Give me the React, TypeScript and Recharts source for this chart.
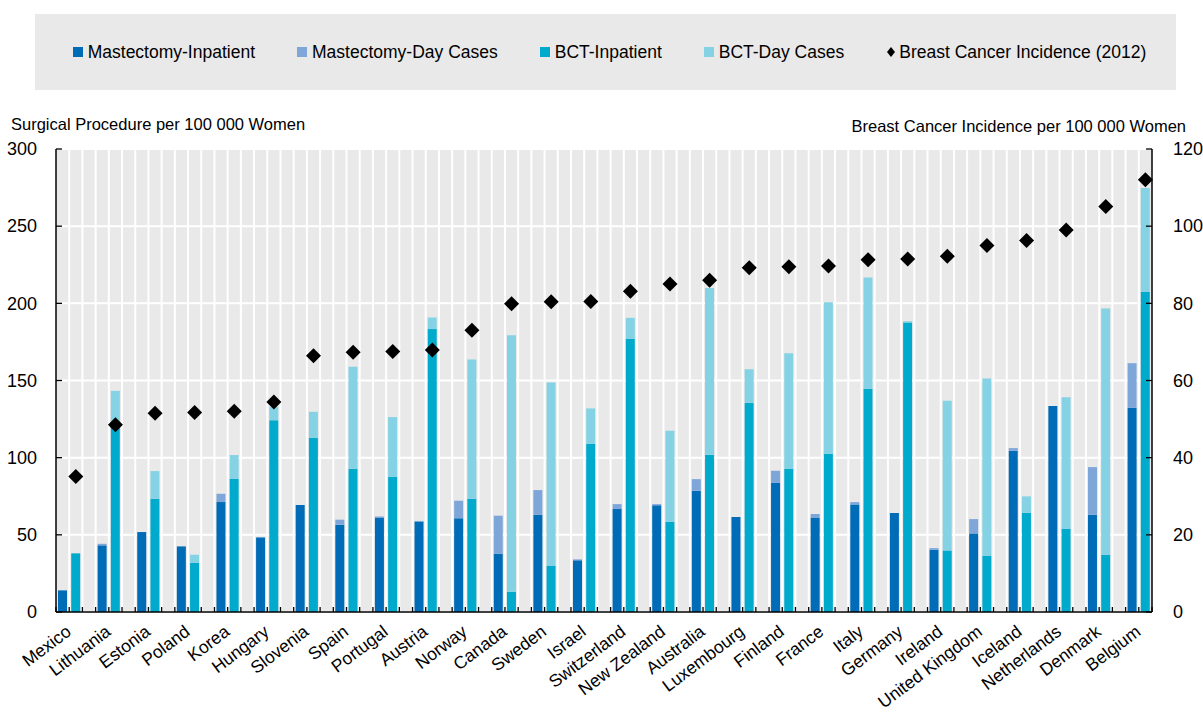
import React from "react";
import {
  ComposedChart,
  Bar,
  Scatter,
  XAxis,
  YAxis,
  CartesianGrid,
} from "recharts";

const countries = [
  "Mexico", "Lithuania", "Estonia", "Poland", "Korea", "Hungary", "Slovenia",
  "Spain", "Portugal", "Austria", "Norway", "Canada", "Sweden", "Israel",
  "Switzerland", "New Zealand", "Australia", "Luxembourg", "Finland", "France",
  "Italy", "Germany", "Ireland", "United Kingdom", "Iceland", "Netherlands",
  "Denmark", "Belgium",
];

const mastInpatient = [
  14, 43.2, 51.8, 42.5, 71.2, 48.3, 69.3, 56.6, 60.9, 58.7, 60.7, 37.8, 63.0,
  33.5, 66.7, 69.1, 78.6, 61.5, 83.7, 61.3, 69.7, 64.1, 40.4, 50.9, 104.5,
  133.4, 63.0, 132.3,
];
const mastDayCases = [
  0, 1.0, 0, 0, 5.4, 0, 0, 3.2, 1.0, 0.3, 11.4, 24.6, 16.0, 0.6, 3.2, 0.8, 7.5,
  0, 7.8, 2.2, 1.5, 0, 1.0, 9.3, 1.7, 0, 30.9, 28.9,
];
const bctInpatient = [
  38, 120, 73.4, 31.9, 86.3, 124.3, 112.9, 92.8, 87.6, 183.3, 73.4, 13.2, 29.8,
  109, 177, 58.5, 101.9, 135.5, 92.6, 102.5, 144.6, 187.6, 39.9, 36.5, 64.3,
  54.0, 37.1, 207.4,
];
const bctDayCases = [
  0, 23.3, 17.9, 5.2, 15.4, 8.7, 16.8, 66.1, 38.7, 7.5, 90.2, 166.2, 118.9,
  22.9, 13.6, 58.9, 108.1, 21.8, 75.1, 98.2, 72.1, 0.8, 96.9, 114.8, 10.6, 85.2,
  159.5, 67.4,
];
const incidence = [
  35.1, 48.5, 51.5, 51.7, 52.0, 54.4, 66.4, 67.3, 67.5, 67.9, 73.0, 79.9, 80.4,
  80.5, 83.1, 85.0, 86.0, 89.2, 89.5, 89.7, 91.3, 91.5, 92.2, 95.0, 96.3, 99.0,
  105.1, 112.0,
];

const leftTicks = [0, 50, 100, 150, 200, 250, 300];
const rightTicks = [0, 20, 40, 60, 80, 100, 120];

const C_MAST_IN = "#006bb6";
const C_MAST_DAY = "#7fa6d9";
const C_BCT_IN = "#00aacc";
const C_BCT_DAY = "#84d2e3";
const BG = "#e9e9e9";
const FONT = "'Liberation Sans', Arial, sans-serif";

// each country: mastectomy slot, BCT slot, empty slot
const rows: any[] = [];
countries.forEach((c, i) => {
  rows.push({ key: `${i}m`, country: c, mastIn: mastInpatient[i], mastDay: mastDayCases[i] });
  rows.push({ key: `${i}b`, bctIn: bctInpatient[i], bctDay: bctDayCases[i], inc: incidence[i] });
  if (i < countries.length - 1) rows.push({ key: `${i}g` });
});

const W = 1203;
const H = 717;
const LEFT_W = 56;
const RIGHT_W = 51;
const SLOT = (W - LEFT_W - RIGHT_W) / rows.length;

const XTick = (props: any) => {
  const { x, y, payload } = props;
  const idx = payload.index;
  const row = rows[idx];
  const half = payload.offset || SLOT / 2;
  const lx = x + half + 3;
  const ly = y + 22;
  return (
    <g>
      <line x1={x - half} x2={x - half} y1={y} y2={y - 5} stroke="#000" strokeWidth={1.3} />
      {idx === rows.length - 1 && (
        <line x1={x + half} x2={x + half} y1={y} y2={y - 5} stroke="#000" strokeWidth={1.3} />
      )}
      {row && row.country && (
        <text
          x={lx}
          y={ly}
          textAnchor="end"
          transform={`rotate(-37 ${lx} ${ly})`}
          fontSize={17.5}
          fontFamily={FONT}
          fill="#000"
        >
          {row.country}
        </text>
      )}
    </g>
  );
};

const LeftTick = (props: any) => {
  const { x, y, payload } = props;
  return (
    <g>
      <line x1={x} x2={x + 6} y1={y} y2={y} stroke="#000" strokeWidth={1.3} />
      <text x={x - 19} y={y} dy="0.35em" textAnchor="end" fontSize={18} fontFamily={FONT} fill="#000">
        {payload.value}
      </text>
    </g>
  );
};

const RightTick = (props: any) => {
  const { x, y, payload } = props;
  return (
    <g>
      <line x1={x} x2={x - 6} y1={y} y2={y} stroke="#000" strokeWidth={1.3} />
      <text x={x + 21} y={y} dy="0.35em" textAnchor="start" fontSize={18} fontFamily={FONT} fill="#000">
        {payload.value}
      </text>
    </g>
  );
};

const Diamond = (props: any) => {
  const { cx, cy } = props;
  if (cx == null || cy == null || !isFinite(cx) || !isFinite(cy)) return <g />;
  const r = 7.5;
  return (
    <polygon
      points={`${cx},${cy - r} ${cx + r},${cy} ${cx},${cy + r} ${cx - r},${cy}`}
      fill="#000"
    />
  );
};

const legendItems = [
  { label: "Mastectomy-Inpatient", color: C_MAST_IN },
  { label: "Mastectomy-Day Cases", color: C_MAST_DAY },
  { label: "BCT-Inpatient", color: C_BCT_IN },
  { label: "BCT-Day Cases", color: C_BCT_DAY },
];

export default function App() {
  return (
    <div style={{ position: "absolute", left: 0, top: 0, width: W, height: H, background: "#fff", fontFamily: FONT, overflow: "hidden" }}>
      <ComposedChart
        width={W}
        height={H}
        data={rows}
        margin={{ top: 149, right: 0, bottom: 0, left: 0 }}
        barSize={9}
      >
        <CartesianGrid
          yAxisId="left"
          fill={BG}
          stroke="#fff"
          strokeWidth={2}
          verticalCoordinatesGenerator={({ offset }: any) => {
            const out: number[] = [];
            for (let k = 1; k < rows.length; k++) out.push(offset.left + (k * offset.width) / rows.length);
            return out;
          }}
        />
        <XAxis
          dataKey="key"
          type="category"
          interval={0}
          height={105}
          tickLine={false}
          tickSize={0}
          tickMargin={0}
          axisLine={{ stroke: "#000", strokeWidth: 1.5 }}
          tick={<XTick />}
        />
        <YAxis
          yAxisId="left"
          width={LEFT_W}
          domain={[0, 300]}
          ticks={leftTicks}
          tickLine={false}
          tickSize={0}
          tickMargin={0}
          axisLine={{ stroke: "#000", strokeWidth: 1.5 }}
          tick={<LeftTick />}
        />
        <YAxis
          yAxisId="right"
          orientation="right"
          width={RIGHT_W}
          domain={[0, 120]}
          ticks={rightTicks}
          tickLine={false}
          tickSize={0}
          tickMargin={0}
          axisLine={{ stroke: "#000", strokeWidth: 1.5 }}
          tick={<RightTick />}
        />
        <Bar yAxisId="left" dataKey="mastIn" stackId="s" fill={C_MAST_IN} isAnimationActive={false} />
        <Bar yAxisId="left" dataKey="mastDay" stackId="s" fill={C_MAST_DAY} isAnimationActive={false} />
        <Bar yAxisId="left" dataKey="bctIn" stackId="s" fill={C_BCT_IN} isAnimationActive={false} />
        <Bar yAxisId="left" dataKey="bctDay" stackId="s" fill={C_BCT_DAY} isAnimationActive={false} />
        <Scatter yAxisId="right" dataKey="inc" shape={<Diamond />} isAnimationActive={false} />
      </ComposedChart>

      <div
        style={{
          position: "absolute",
          left: 35,
          top: 14,
          width: 1141,
          height: 76,
          background: BG,
          display: "flex",
          alignItems: "center",
          justifyContent: "center",
          gap: 42,
          fontSize: 17.5,
          color: "#000",
          paddingLeft: 8,
          boxSizing: "border-box",
        }}
      >
        {legendItems.map((it) => (
          <div key={it.label} style={{ display: "flex", alignItems: "center" }}>
            <span style={{ display: "inline-block", width: 10, height: 10, background: it.color, marginRight: 5 }} />
            <span>{it.label}</span>
          </div>
        ))}
        <div style={{ display: "flex", alignItems: "center" }}>
          <svg width={10} height={12} style={{ marginRight: 3 }}>
            <polygon points="5,1 9,6 5,11 1,6" fill="#000" />
          </svg>
          <span>Breast Cancer Incidence (2012)</span>
        </div>
      </div>

      <div style={{ position: "absolute", left: 11, top: 115, fontSize: 16.5, color: "#000", whiteSpace: "nowrap" }}>
        Surgical Procedure per 100 000 Women
      </div>
      <div style={{ position: "absolute", right: 17, top: 117, fontSize: 16.5, color: "#000", whiteSpace: "nowrap" }}>
        Breast Cancer Incidence per 100 000 Women
      </div>
    </div>
  );
}
